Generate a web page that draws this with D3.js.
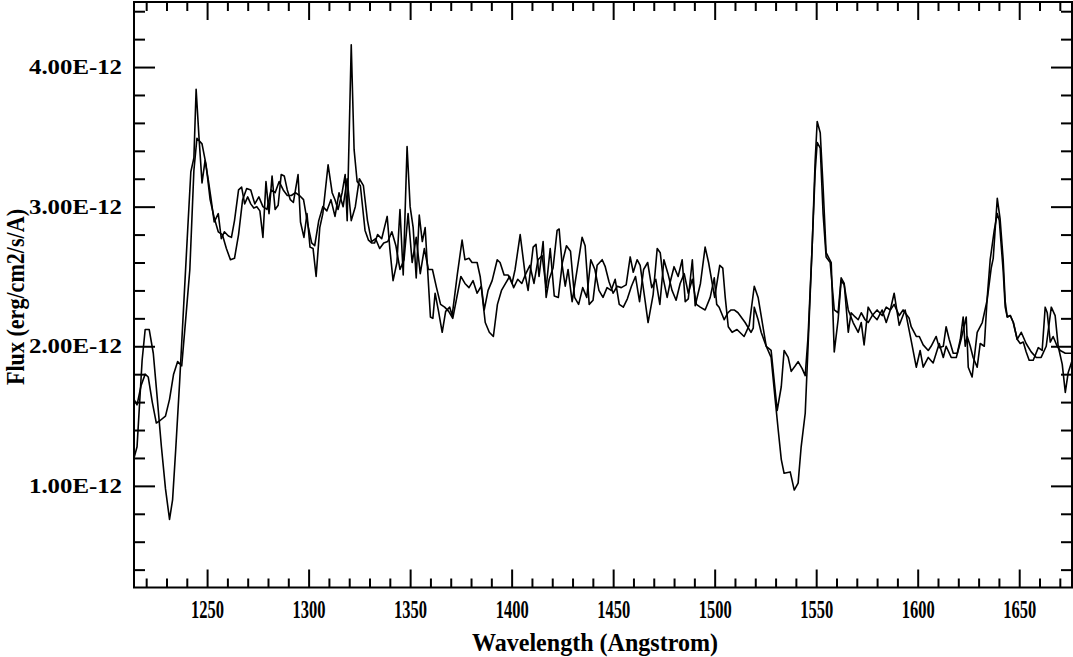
<!DOCTYPE html>
<html><head><meta charset="utf-8">
<script src="https://cdn.jsdelivr.net/npm/d3@7"></script>
<style>body{margin:0;background:#fff}svg{display:block}</style>
</head><body>
<script>
// ---- data (flux in units of 1E-12 erg/cm2/s/A) ----
const waveA = [1214.0,1215.5,1218.0,1219.5,1221.5,1223.5,1225.5,1227.5,1229.5,1231.5,1233.0,1234.5,1236.5,1238.5,1240.5,1242.0,1243.5,1244.6,1246.0,1247.5,1249.0,1250.5,1252.0,1253.5,1255.5,1257.0,1258.5,1260.5,1262.0,1263.5,1265.5,1267.0,1268.5,1270.0,1271.5,1273.0,1274.5,1276.0,1277.5,1279.0,1280.5,1282.0,1283.5,1285.0,1286.5,1288.0,1289.5,1291.0,1292.5,1294.8,1296.0,1297.7,1299.2,1300.7,1302.2,1303.7,1305.5,1307.0,1309.6,1311.6,1313.0,1314.5,1316.5,1318.0,1319.0,1321.0,1322.4,1323.9,1325.5,1327.8,1329.5,1331.0,1332.5,1334.0,1336.0,1338.7,1340.0,1341.6,1343.5,1345.0,1346.6,1348.5,1350.0,1351.5,1353.0,1354.5,1356.0,1357.4,1360.0,1361.2,1362.3,1364.0,1365.8,1367.5,1369.5,1370.7,1373.2,1375.6,1377.0,1379.0,1380.5,1383.0,1384.5,1386.5,1388.4,1390.4,1392.9,1394.3,1396.3,1398.3,1400.2,1401.7,1404.2,1406.7,1408.1,1410.6,1412.0,1413.5,1415.5,1417.0,1418.5,1420.4,1422.4,1423.4,1424.9,1426.4,1427.8,1429.8,1431.3,1432.8,1434.7,1436.2,1438.2,1440.1,1442.1,1444.6,1446.1,1448.0,1450.0,1452.0,1454.0,1456.4,1458.4,1459.9,1461.8,1463.3,1465.8,1467.2,1469.7,1471.7,1473.2,1474.6,1476.6,1478.1,1480.0,1482.0,1484.0,1485.5,1487.0,1489.0,1490.4,1493.0,1495.3,1497.0,1500.0,1502.5,1504.0,1505.2,1506.7,1508.6,1511.0,1514.5,1517.0,1519.5,1521.4,1525.4,1527.8,1529.8,1531.3,1532.8,1534.2,1537.2,1539.2,1541.1,1542.6,1544.6,1546.0,1548.0,1549.5,1550.5,1552.0,1553.4,1554.9,1557.4,1558.9,1560.8,1562.3,1563.8,1565.8,1568.2,1570.7,1572.2,1573.6,1575.6,1578.0,1580.0,1582.5,1584.5,1586.5,1588.4,1590.9,1593.8,1596.8,1599.3,1601.2,1602.7,1605.2,1607.6,1609.1,1610.6,1612.6,1614.0,1616.5,1619.0,1621.4,1623.9,1624.9,1626.8,1629.3,1631.8,1634.2,1636.2,1637.2,1639.2,1640.6,1642.1,1643.1,1644.1,1645.6,1647.1,1649.0,1651.0,1653.4,1655.9,1658.4,1660.8,1663.3,1665.8,1667.7,1669.2,1671.2,1672.7,1674.1,1676.1];
const fluxA = [1.20,1.28,1.90,2.12,2.12,1.95,1.62,1.28,0.98,0.76,0.90,1.25,1.75,2.30,2.85,3.25,3.35,3.84,3.50,3.17,3.33,3.20,3.05,2.89,2.95,2.77,2.82,2.79,2.78,2.90,3.12,3.14,3.02,3.07,3.02,2.99,3.00,2.97,2.78,3.18,2.95,3.22,2.98,3.01,3.23,3.22,3.12,3.05,3.03,3.23,2.89,2.78,2.95,2.71,2.70,2.50,2.85,2.95,3.30,3.10,3.05,2.98,3.10,3.23,2.90,4.16,3.41,3.18,3.15,2.83,2.76,2.74,2.74,2.80,2.77,2.93,2.70,2.47,2.60,2.98,2.51,3.43,3.00,2.85,2.49,2.94,2.75,2.85,2.21,2.20,2.38,2.25,2.10,2.25,2.28,2.22,2.51,2.76,2.62,2.63,2.60,2.60,2.50,2.26,2.40,2.47,2.62,2.60,2.51,2.51,2.45,2.55,2.80,2.51,2.40,2.71,2.73,2.50,2.75,2.35,2.48,2.56,2.83,2.84,2.58,2.43,2.55,2.32,2.46,2.60,2.78,2.72,2.30,2.33,2.58,2.62,2.57,2.46,2.38,2.43,2.42,2.44,2.64,2.53,2.62,2.58,2.32,2.17,2.37,2.70,2.67,2.49,2.35,2.46,2.57,2.50,2.62,2.32,2.34,2.62,2.29,2.45,2.71,2.60,2.35,2.58,2.56,2.35,2.14,2.10,2.12,2.07,2.15,2.43,2.35,2.00,1.92,1.62,1.40,1.19,1.09,1.10,0.97,1.02,1.28,1.52,2.00,2.71,3.33,3.61,3.53,3.14,2.67,2.60,1.96,2.19,2.47,2.44,2.26,2.17,2.10,2.17,2.01,2.28,2.22,2.19,2.26,2.17,2.26,2.38,2.15,2.26,2.04,1.85,1.97,1.85,1.92,1.88,1.95,2.02,1.92,2.00,1.92,1.92,2.05,2.21,1.85,1.78,2.10,2.17,2.33,2.56,2.63,3.06,2.91,2.62,2.32,2.21,2.22,2.17,2.05,2.10,2.02,1.96,1.92,1.92,2.00,2.28,2.22,2.00,1.87,1.67,1.81,1.90];

const waveB = [1214.0,1215.5,1217.5,1219.5,1221.0,1223.0,1225.0,1227.0,1229.5,1231.5,1233.5,1235.5,1237.5,1239.5,1241.5,1243.5,1245.0,1247.5,1249.5,1251.5,1253.5,1255.5,1257.5,1259.5,1261.5,1263.5,1265.5,1267.5,1269.5,1271.5,1273.5,1275.5,1277.5,1279.5,1281.5,1283.5,1285.5,1287.5,1289.5,1291.5,1293.5,1295.5,1297.5,1299.5,1301.5,1303.0,1305.0,1307.0,1309.0,1311.0,1313.0,1315.0,1317.0,1319.0,1321.0,1323.0,1325.0,1327.0,1329.0,1331.0,1333.0,1335.0,1337.0,1339.0,1341.0,1343.0,1345.0,1347.0,1349.0,1351.0,1353.0,1355.0,1357.0,1359.0,1361.0,1363.0,1365.0,1367.0,1369.0,1371.0,1373.0,1375.0,1377.0,1379.0,1381.0,1383.0,1385.0,1387.0,1389.0,1391.0,1393.0,1395.0,1397.0,1399.0,1401.0,1403.0,1405.0,1407.0,1409.0,1411.0,1413.0,1415.0,1417.0,1419.0,1421.0,1423.0,1425.0,1427.0,1429.0,1431.0,1433.0,1435.0,1437.0,1439.0,1441.0,1443.0,1445.0,1447.0,1449.0,1451.0,1453.0,1455.0,1457.0,1459.0,1461.0,1463.0,1465.0,1467.0,1469.0,1471.0,1473.0,1475.0,1477.0,1479.0,1481.0,1483.0,1485.0,1487.0,1489.0,1491.0,1492.9,1495.3,1497.8,1499.8,1501.0,1502.2,1504.7,1506.5,1508.1,1509.6,1511.5,1515.0,1517.9,1519.0,1519.5,1521.4,1522.9,1525.4,1527.8,1530.8,1532.8,1534.2,1536.2,1537.7,1539.7,1541.1,1543.1,1544.6,1546.0,1548.0,1549.5,1550.5,1552.0,1553.4,1554.9,1556.9,1558.9,1560.8,1562.3,1563.8,1565.8,1567.2,1569.2,1570.7,1572.2,1574.1,1575.6,1577.6,1580.0,1582.5,1584.5,1586.5,1588.4,1590.9,1592.8,1595.8,1596.8,1599.3,1600.8,1602.7,1605.2,1606.6,1609.1,1610.6,1612.6,1614.0,1615.5,1617.5,1619.5,1621.0,1622.4,1623.4,1624.4,1625.9,1627.3,1629.3,1630.8,1632.8,1634.2,1635.7,1637.7,1639.2,1640.2,1642.1,1643.1,1644.1,1645.6,1647.1,1649.0,1650.5,1652.0,1653.4,1654.9,1656.9,1659.4,1661.3,1662.8,1663.8,1665.3,1666.7,1668.7,1670.2,1672.7,1676.0];
const fluxB = [1.62,1.58,1.72,1.80,1.78,1.60,1.45,1.47,1.50,1.62,1.80,1.89,1.86,2.20,2.55,3.26,3.49,3.45,3.30,3.05,2.92,2.82,2.80,2.70,2.62,2.63,2.80,3.05,3.13,3.12,3.02,3.07,3.00,2.98,3.12,3.10,3.18,3.12,3.08,3.08,3.10,3.08,3.05,2.88,2.74,2.72,2.90,3.00,2.97,3.05,2.93,3.10,3.00,3.20,2.90,3.00,3.20,3.15,2.90,2.75,2.77,2.70,2.74,2.75,2.82,2.72,2.55,2.62,2.95,2.60,2.78,2.52,2.70,2.55,2.55,2.42,2.30,2.28,2.25,2.20,2.35,2.50,2.45,2.42,2.47,2.38,2.43,2.17,2.10,2.07,2.30,2.40,2.45,2.50,2.42,2.48,2.45,2.52,2.58,2.45,2.62,2.65,2.42,2.70,2.36,2.35,2.60,2.72,2.68,2.35,2.30,2.42,2.35,2.62,2.55,2.40,2.35,2.42,2.40,2.48,2.30,2.28,2.34,2.43,2.50,2.32,2.55,2.60,2.42,2.48,2.30,2.62,2.52,2.40,2.33,2.45,2.52,2.38,2.48,2.30,2.28,2.26,2.35,2.49,2.30,2.28,2.19,2.24,2.26,2.26,2.24,2.17,2.10,2.13,2.28,2.19,2.10,2.00,1.97,1.54,1.71,1.97,1.92,1.82,1.86,1.89,1.84,1.79,2.07,2.71,3.25,3.46,3.42,2.95,2.64,2.60,2.26,2.24,2.49,2.45,2.10,2.24,2.21,2.19,2.24,2.19,2.17,2.22,2.26,2.22,2.28,2.26,2.30,2.22,2.26,2.20,2.14,2.07,2.07,2.01,1.97,2.00,2.07,1.99,2.00,2.14,2.05,1.95,1.95,2.05,2.21,2.00,2.07,2.00,1.92,1.85,2.02,2.00,2.34,2.62,2.83,2.95,2.90,2.54,2.28,2.21,2.22,2.17,2.05,2.02,2.03,1.96,1.90,1.90,1.99,1.97,2.28,2.24,2.03,2.07,2.00,1.97,1.95,1.95];

const xMajorTicks = [1250,1300,1350,1400,1450,1500,1550,1600,1650];
const xMinorTicks = [1220,1230,1240,1260,1270,1280,1290,1310,1320,1330,1340,1360,1370,1380,1390,1410,1420,1430,1440,1460,1470,1480,1490,1510,1520,1530,1540,1560,1570,1580,1590,1610,1620,1630,1640,1660,1670];
const yMajorTicks = [1,2,3,4];
const yTickLabels = ["1.00E-12","2.00E-12","3.00E-12","4.00E-12"];
const yMinorTicks = [0.4,0.6,0.8,1.2,1.4,1.6,1.8,2.2,2.4,2.6,2.8,3.2,3.4,3.6,3.8,4.2,4.4];
const xTitle = "Wavelength (Angstrom)";
const yTitle = "Flux (erg/cm2/s/A)";

// ---- drawing ----
const W = 1073, H = 657;
const L = 134, R = 1072, T = 2, B = 587.5;
const svg = d3.select("body").append("svg").attr("width", W).attr("height", H);
const x = d3.scaleLinear().domain([1214, 1676]).range([L, R]);
const y = d3.scaleLinear().domain([0.272, 4.466]).range([B, T]);

svg.append("defs").append("clipPath").attr("id","clip")
  .append("rect").attr("x",L).attr("y",T).attr("width",R-L).attr("height",B-T);

const line = d3.line().x(d => x(d[0])).y(d => y(d[1]));
const dataA = waveA.map((w,i) => [w, fluxA[i]]);
const dataB = waveB.map((w,i) => [w, fluxB[i]]);
const g = svg.append("g").attr("clip-path","url(#clip)");
[dataB, dataA].forEach(d => g.append("path").datum(d).attr("d", line)
  .attr("fill","none").attr("stroke","#000").attr("stroke-width",1.6).attr("stroke-linejoin","round"));

function styleAxis(sel){ sel.select(".domain").remove(); sel.selectAll(".tick line").attr("stroke","#000").attr("stroke-width",2); }

// bottom axis
const xb = svg.append("g").attr("transform",`translate(0,${B})`)
  .call(d3.axisBottom(x).tickValues(xMajorTicks).tickSize(-18).tickPadding(13).tickFormat(d3.format("d")));
styleAxis(xb);
xb.selectAll(".tick text").attr("font-family","Liberation Serif").attr("font-weight","bold").attr("font-size",25).attr("fill","#000")
  .attr("textLength",33).attr("lengthAdjust","spacingAndGlyphs");
svg.append("g").attr("transform",`translate(0,${B})`).call(d3.axisBottom(x).tickValues(xMinorTicks).tickSize(-9).tickFormat("")).call(styleAxis);
// top axis
svg.append("g").attr("transform",`translate(0,${T})`).call(d3.axisTop(x).tickValues(xMajorTicks).tickSize(-18).tickFormat("")).call(styleAxis);
svg.append("g").attr("transform",`translate(0,${T})`).call(d3.axisTop(x).tickValues(xMinorTicks).tickSize(-9).tickFormat("")).call(styleAxis);
// left axis
const yl = svg.append("g").attr("transform",`translate(${L},0)`)
  .call(d3.axisLeft(y).tickValues(yMajorTicks).tickSize(-21).tickPadding(12).tickFormat((d,i) => yTickLabels[i]));
styleAxis(yl);
yl.selectAll(".tick text").attr("font-family","Liberation Serif").attr("font-weight","bold").attr("font-size",20).attr("fill","#000")
  .attr("textLength",93).attr("lengthAdjust","spacingAndGlyphs");
svg.append("g").attr("transform",`translate(${L},0)`).call(d3.axisLeft(y).tickValues(yMinorTicks).tickSize(-11).tickFormat("")).call(styleAxis);
// right axis
svg.append("g").attr("transform",`translate(${R},0)`).call(d3.axisRight(y).tickValues(yMajorTicks).tickSize(-21).tickFormat("")).call(styleAxis);
svg.append("g").attr("transform",`translate(${R},0)`).call(d3.axisRight(y).tickValues(yMinorTicks).tickSize(-11).tickFormat("")).call(styleAxis);

// frame
svg.append("rect").attr("x",L).attr("y",T).attr("width",R-L).attr("height",B-T)
  .attr("fill","none").attr("stroke","#000").attr("stroke-width",2);

// titles
svg.append("text").attr("x",595).attr("y",651).attr("text-anchor","middle")
  .attr("font-family","Liberation Serif").attr("font-size",25).attr("font-weight","bold").attr("fill","#000")
  .attr("textLength",246).attr("lengthAdjust","spacingAndGlyphs").text(xTitle);
svg.append("text").attr("transform","translate(24,297) rotate(-90)").attr("text-anchor","middle")
  .attr("font-family","Liberation Serif").attr("font-size",25).attr("font-weight","bold").attr("fill","#000")
  .attr("textLength",176).attr("lengthAdjust","spacingAndGlyphs").text(yTitle);
</script>
</body></html>
